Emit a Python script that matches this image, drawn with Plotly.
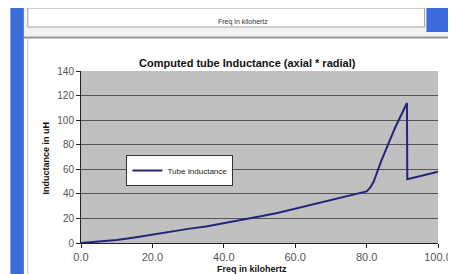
import plotly.graph_objects as go

# ---- data ----
freq_khz = [0, 5, 10, 15, 20, 25, 30, 35, 40, 45, 50, 55, 60, 65, 70, 75, 80,
            81, 82, 83, 84, 86, 88, 90, 91.3, 91.4, 95, 100]
inductance_uh = [0, 1, 2.5, 4.5, 7, 9, 11.5, 13.5, 16, 18.5, 21.5, 24.5, 28, 31.5, 35, 38.5, 42,
                 45, 50, 58, 66, 80, 94, 106, 114, 52, 54.5, 58]
series_name = "Tube Inductance"
x_ticks = [0, 20, 40, 60, 80, 100]
y_ticks = [0, 20, 40, 60, 80, 100, 120, 140]

W, H = 456, 274
L, R, T, B = 73, 442, 63, 235  # plot area in pixels


def px(x):
    return (x - L) / (R - L)


def py(y):
    return (B - y) / (B - T)


FONT = "Liberation Sans, Arial, sans-serif"

fig = go.Figure()
fig.add_trace(go.Scatter(x=freq_khz, y=inductance_uh, mode="lines", name=series_name,
                         line=dict(color="#24247A", width=2)))

shapes = []
# left blue strip
shapes.append(dict(type="rect", xref="paper", yref="paper", x0=px(0), x1=px(14), y0=py(274), y1=py(0),
                   fillcolor="#3D6BD9", line=dict(width=0), layer="below"))
# top panel region
shapes.append(dict(type="rect", xref="paper", yref="paper", x0=px(14), x1=px(456), y0=py(31), y1=py(0),
                   fillcolor="#F2F2F0", line=dict(width=0), layer="below"))
shapes.append(dict(type="rect", xref="paper", yref="paper", x0=px(18), x1=px(428), y0=py(19), y1=py(0),
                   fillcolor="#FFFFFF", line=dict(color="#A0A0A0", width=1), layer="below"))
shapes.append(dict(type="line", xref="paper", yref="paper", x0=px(14), x1=px(456), y0=py(29.5), y1=py(29.5),
                   line=dict(color="#9A9A9A", width=2), layer="below"))
# right blue block
shapes.append(dict(type="rect", xref="paper", yref="paper", x0=px(430), x1=px(456), y0=py(24), y1=py(0),
                   fillcolor="#3D6BD9", line=dict(width=0), layer="below"))
# chart panel left edge
shapes.append(dict(type="line", xref="paper", yref="paper", x0=px(18), x1=px(18), y0=py(274), y1=py(31),
                   line=dict(color="#C8C8C8", width=1), layer="below"))

annotations = [
    dict(text="Freq in kilohertz", xref="paper", yref="paper", x=px(240), y=py(8),
         showarrow=False, font=dict(family=FONT, size=7, color="#333")),
    dict(text="<b>Computed tube Inductance (axial * radial)</b>", xref="paper", yref="paper",
         x=px(245), y=py(47), showarrow=False, font=dict(family=FONT, size=11, color="#111")),
    dict(text="<b>Inductance in uH</b>", xref="paper", yref="paper", x=px(30), y=py(150),
         textangle=-90, showarrow=False, font=dict(family=FONT, size=9, color="#111")),
    dict(text="<b>Freq in kilohertz</b>", xref="paper", yref="paper", x=px(250), y=py(268),
         showarrow=False, font=dict(family=FONT, size=9, color="#111")),
]

fig.update_layout(
    width=W, height=H,
    margin=dict(l=L, r=W - R, t=T, b=H - B),
    paper_bgcolor="white",
    plot_bgcolor="#C0C0C0",
    shapes=shapes,
    annotations=annotations,
    showlegend=True,
    legend=dict(x=px(120), y=py(147), xanchor="left", yanchor="top",
                bgcolor="white", bordercolor="#333", borderwidth=1,
                font=dict(family=FONT, size=8, color="#222"),
                itemwidth=30, tracegroupgap=0),
    xaxis=dict(range=[0, 100], tickvals=x_ticks, ticktext=[f"{v:.1f}" for v in x_ticks],
               showgrid=False, zeroline=False, showline=True, linecolor="#222", linewidth=1,
               ticks="outside", ticklen=4, tickcolor="#222",
               tickfont=dict(family=FONT, size=11, color="#555"), fixedrange=True),
    yaxis=dict(range=[0, 140], tickvals=y_ticks, showgrid=True, gridcolor="#555555", gridwidth=1,
               zeroline=False, showline=True, linecolor="#222", linewidth=1,
               ticks="outside", ticklen=4, tickcolor="#222",
               tickfont=dict(family=FONT, size=10, color="#555"), fixedrange=True),
)

fig.write_html("out.html")
